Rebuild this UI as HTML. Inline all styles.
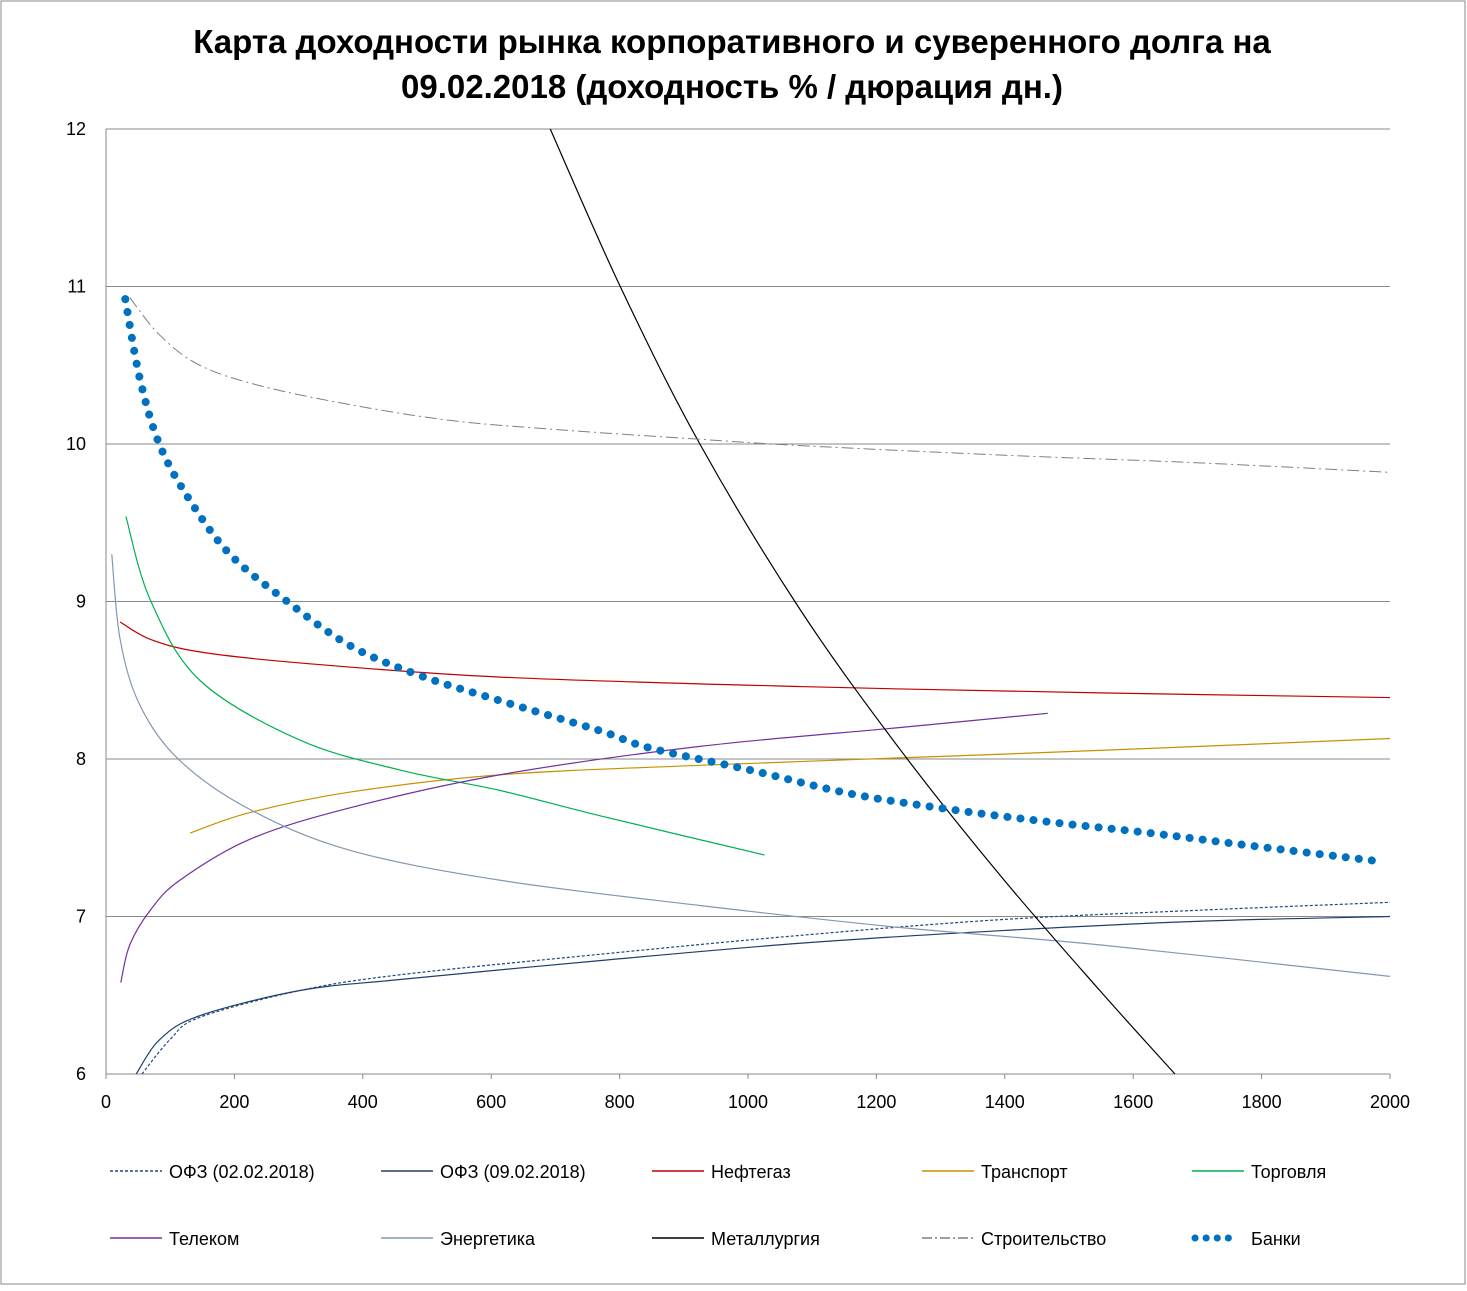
<!DOCTYPE html>
<html><head><meta charset="utf-8"><style>
body{margin:0;background:#fff;}
svg text{font-family:"Liberation Sans",sans-serif;}
</style></head><body>
<svg id="chart" width="1467" height="1286" xmlns="http://www.w3.org/2000/svg">
<rect x="1" y="1" width="1464" height="1283" fill="#fff" stroke="#888"/>
<text x="732" y="53" text-anchor="middle" font-size="33" font-weight="bold">Карта доходности рынка корпоративного и суверенного долга на</text>
<text x="732" y="98" text-anchor="middle" font-size="33" font-weight="bold">09.02.2018 (доходность % / дюрация дн.)</text>
<g id="grid"></g><g id="axes"></g><g id="series"></g><g id="legend"></g>
<defs><clipPath id="clip"><rect x="106" y="129" width="1284" height="945"/></clipPath></defs>
</svg>
<script>
const xTicks=[0,200,400,600,800,1000,1200,1400,1600,1800,2000];
const yTicks=[6,7,8,9,10,11,12];
const seriesNames=["ОФЗ (02.02.2018)","ОФЗ (09.02.2018)","Нефтегаз","Транспорт","Торговля","Телеком","Энергетика","Металлургия","Строительство","Банки"];
const ofz0202X=[56,100,146,302,458,769,1081,1393,1704,2000];
const ofz0202Y=[6.0,6.22,6.36,6.53,6.63,6.76,6.88,6.98,7.04,7.09];
const ofz0902X=[47,84,146,302,458,769,1081,1393,1704,2000];
const ofz0902Y=[6.0,6.22,6.37,6.53,6.60,6.72,6.83,6.91,6.97,7.00];
const neftegazX=[22,69,146,302,614,1081,1548,2000];
const neftegazY=[8.87,8.76,8.68,8.61,8.52,8.46,8.42,8.39];
const transportX=[131,224,380,614,925,1393,1704,2000];
const transportY=[7.53,7.66,7.79,7.90,7.96,8.03,8.08,8.13];
const torgovlyaX=[31,69,146,302,458,614,769,1026];
const torgovlyaY=[9.54,9.01,8.50,8.12,7.93,7.80,7.64,7.39];
const telekomX=[23,37,69,115,224,380,614,925,1237,1467];
const telekomY=[6.58,6.82,7.04,7.23,7.49,7.69,7.90,8.08,8.20,8.29];
const energX=[9,22,53,115,224,380,614,925,1237,1548,2000];
const energY=[9.30,8.76,8.34,7.99,7.68,7.42,7.23,7.07,6.93,6.82,6.62];
const metX=[692,801,925,1081,1237,1393,1548,1665];
const metY=[12,11,10,8.95,8.06,7.26,6.53,6.0];
const stroyX=[37,84,146,240,380,536,707,925,1081,1393,1704,2000];
const stroyY=[10.93,10.69,10.50,10.37,10.25,10.15,10.09,10.03,9.99,9.93,9.88,9.82];
const bankiX=[30,53,84,131,193,279,380,489,614,769,847,1003,1159,1315,1470,1626,1782,1984];
const bankiY=[10.92,10.41,9.99,9.64,9.30,9.01,8.72,8.53,8.37,8.18,8.07,7.93,7.78,7.68,7.60,7.53,7.45,7.35];

const X0=106,X1=1390,Y0=1074,Y1=129;
const sx=v=>X0+(v-0)/2000*(X1-X0);
const sy=v=>Y0-(v-6)/6*(Y0-Y1);
const NS="http://www.w3.org/2000/svg";
function mk(tag,attrs,parent){const e=document.createElementNS(NS,tag);for(const k in attrs)e.setAttribute(k,attrs[k]);parent.appendChild(e);return e;}
const grid=document.getElementById('grid'),axes=document.getElementById('axes'),ser=document.getElementById('series'),leg=document.getElementById('legend');
yTicks.forEach(t=>{
 const l=mk('line',{x1:X0,x2:X1,y1:sy(t),y2:sy(t),stroke:'#888','stroke-width':1},grid);
 
 
 const tx=mk('text',{x:86,y:sy(t)+6,'font-size':18,'text-anchor':'end'},axes);tx.textContent=t;
 
 
});
xTicks.forEach(t=>{
 const tx=mk('text',{x:sx(t),y:1108,'font-size':18,'text-anchor':'middle'},axes);tx.textContent=t;
 
 
 const tk=mk('line',{x1:sx(t),x2:sx(t),y1:Y0,y2:Y0+5,stroke:'#888'},axes);
 
 
});
const ya=mk('line',{x1:X0,x2:X0,y1:Y1,y2:Y0,stroke:'#888'},axes);


const xa=mk('line',{x1:X0,x2:X1,y1:Y0,y2:Y0,stroke:'#888'},axes);



function smooth(xs,ys){
 const p=xs.map((x,i)=>[sx(x),sy(ys[i])]);let d='M'+p[0][0]+','+p[0][1];
 for(let i=0;i<p.length-1;i++){const a=p[i-1]||p[i],b=p[i],c=p[i+1],e=p[i+2]||c;
  d+=' C'+(b[0]+(c[0]-a[0])/6)+','+(b[1]+(c[1]-a[1])/6)+' '+(c[0]-(e[0]-b[0])/6)+','+(c[1]-(e[1]-b[1])/6)+' '+c[0]+','+c[1];}
 return d;}
const styles=[
 {xs:ofz0202X,ys:ofz0202Y,c:'#1f497d',w:1.2,da:'3,2',n:'series-ofz-0202'},
 {xs:ofz0902X,ys:ofz0902Y,c:'#1f3f6a',w:1.2,da:'',n:'series-ofz-0902'},
 {xs:neftegazX,ys:neftegazY,c:'#c00000',w:1.2,da:'',n:'series-neftegaz'},
 {xs:transportX,ys:transportY,c:'#c89000',w:1.2,da:'',n:'series-transport'},
 {xs:torgovlyaX,ys:torgovlyaY,c:'#00b050',w:1.2,da:'',n:'series-torgovlya'},
 {xs:telekomX,ys:telekomY,c:'#7030a0',w:1.2,da:'',n:'series-telekom'},
 {xs:energX,ys:energY,c:'#8497b0',w:1.2,da:'',n:'series-energetika'},
 {xs:metX,ys:metY,c:'#000',w:1.2,da:'',n:'series-metallurgiya'},
 {xs:stroyX,ys:stroyY,c:'#7f7f7f',w:1,da:'12,4,2,4',n:'series-stroitelstvo'},
 {xs:bankiX,ys:bankiY,c:'#0070c0',w:8,da:'0.1,13',n:'series-banki'}];
styles.forEach(s=>{
 const p=mk('path',{d:smooth(s.xs,s.ys),fill:'none',stroke:s.c,'stroke-width':s.w,'clip-path':'url(#clip)'},ser);
 if(s.da)p.setAttribute('stroke-dasharray',s.da);
 if(s.n==='series-banki')p.setAttribute('stroke-linecap','round');
 
 
});
const legX=[110,381,652,922,1192],legY=[1171,1238];
styles.forEach((s,i)=>{
 const x=legX[i%5],y=legY[Math.floor(i/5)];
 const g=mk('g',{},leg);
 
 
 const l=mk('line',{x1:x,x2:x+52,y1:y,y2:y,stroke:s.c,'stroke-width':s.n==='series-banki'?7:1.5},g);
 if(s.da)l.setAttribute('stroke-dasharray',s.n==='series-banki'?'0.1,11':(s.n==='series-stroitelstvo'?'10,3,2,3':'3,2'));
 if(s.n==='series-banki'){l.setAttribute('stroke-linecap','round');l.setAttribute('x1',x+84);l.setAttribute('x2',x+120);l.setAttribute('x1',x+3);l.setAttribute('x2',x+40);}
 const t=mk('text',{x:x+59,y:y+7,'font-size':18},g);t.textContent=seriesNames[i];
});
</script>
</body></html>
